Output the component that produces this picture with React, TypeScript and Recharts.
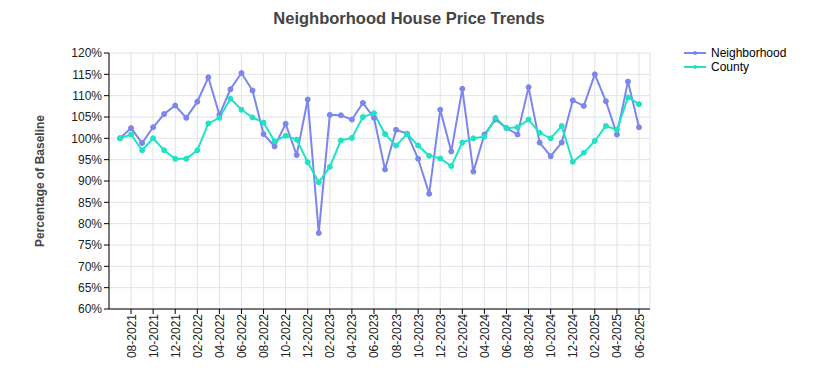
import { CartesianGrid, Line, LineChart, XAxis, YAxis } from "recharts";

const months = [
  "07-2021", "08-2021", "09-2021", "10-2021", "11-2021", "12-2021",
  "01-2022", "02-2022", "03-2022", "04-2022", "05-2022", "06-2022",
  "07-2022", "08-2022", "09-2022", "10-2022", "11-2022", "12-2022",
  "01-2023", "02-2023", "03-2023", "04-2023", "05-2023", "06-2023",
  "07-2023", "08-2023", "09-2023", "10-2023", "11-2023", "12-2023",
  "01-2024", "02-2024", "03-2024", "04-2024", "05-2024", "06-2024",
  "07-2024", "08-2024", "09-2024", "10-2024", "11-2024", "12-2024",
  "01-2025", "02-2025", "03-2025", "04-2025", "05-2025", "06-2025",
];

const neighborhood = [
  100.0, 102.4, 98.9, 102.6, 105.7, 107.7, 104.8, 108.6, 114.3, 105.5, 111.5, 115.3,
  111.2, 101.0, 98.1, 103.4, 96.1, 109.1, 77.8, 105.5, 105.4, 104.4, 108.3, 104.8,
  92.7, 102.0, 101.1, 95.2, 87.0, 106.7, 96.9, 111.6, 92.2, 100.9, 104.4, 102.4,
  100.9, 112.0, 99.0, 95.8, 99.0, 108.9, 107.6, 115.0, 108.7, 100.9, 113.3, 102.6,
];

const county = [
  100.0, 100.9, 97.2, 100.0, 97.2, 95.2, 95.2, 97.2, 103.5, 104.8, 109.3, 106.7,
  104.9, 103.7, 99.3, 100.6, 99.7, 94.4, 89.7, 93.3, 99.5, 100.1, 105.0, 105.9,
  101.0, 98.3, 101.0, 98.3, 95.9, 95.3, 93.5, 99.0, 100.0, 100.4, 104.8, 102.4,
  102.6, 104.4, 101.3, 100.0, 102.9, 94.5, 96.6, 99.4, 102.9, 102.0, 109.6, 108.0,
];

const yTicks = [60, 65, 70, 75, 80, 85, 90, 95, 100, 105, 110, 115, 120];
const xTicks = months.filter((_, i) => i % 2 === 1);

const data = months.map((month, i) => ({
  month,
  neighborhood: neighborhood[i],
  county: county[i],
}));

const NEIGHBORHOOD = "#7b86ee";
const COUNTY = "#1fe3c4";
const FONT = "Arial, 'Liberation Sans', sans-serif";

function LegendBox() {
  const items = [
    { label: "Neighborhood", color: NEIGHBORHOOD },
    { label: "County", color: COUNTY },
  ];
  return (
    <div style={{ position: "absolute", left: 683, top: 46, fontFamily: FONT, fontSize: 12, color: "#000" }}>
      {items.map((it) => (
        <div key={it.label} style={{ display: "flex", alignItems: "center", height: 14 }}>
          <svg width={24} height={10} style={{ marginRight: 4 }}>
            <line x1={1} y1={5} x2={23} y2={5} stroke={it.color} strokeWidth={2} />
            <circle cx={12} cy={5} r={2} fill={it.color} />
          </svg>
          {it.label}
        </div>
      ))}
    </div>
  );
}

export default function App() {
  return (
    <div style={{ position: "absolute", left: 0, top: 0, width: 820, height: 380, background: "#fff" }}>
      <div
        style={{
          position: "absolute",
          left: 0,
          top: 9,
          width: 818,
          textAlign: "center",
          fontFamily: FONT,
          fontWeight: "bold",
          fontSize: 16.5,
          color: "#444",
        }}
      >
        Neighborhood House Price Trends
      </div>
      <LineChart
        width={820}
        height={380}
        data={data}
        margin={{ top: 53, right: 170, left: 49, bottom: 6 }}
      >
        <CartesianGrid stroke="#e2e2ea" strokeWidth={1} />
        <XAxis
          dataKey="month"
          ticks={xTicks}
          interval={0}
          padding={{ left: 11, right: 11 }}
          height={65}
          angle={-90}
          textAnchor="end"
          dx={-4}
          dy={-2}
          tick={{ fontSize: 12, fill: "#222", fontFamily: FONT }}
          tickLine={{ stroke: "#000" }}
          axisLine={{ stroke: "#000" }}
          tickSize={5}
        />
        <YAxis
          domain={[60, 120]}
          ticks={yTicks}
          interval={0}
          width={60}
          tickFormatter={(v) => `${v}%`}
          tick={{ fontSize: 12, fill: "#222", fontFamily: FONT }}
          tickLine={{ stroke: "#000" }}
          axisLine={{ stroke: "#000" }}
          tickSize={5}
          label={{
            value: "Percentage of Baseline",
            angle: -90,
            position: "insideLeft",
            offset: -9,
            style: { textAnchor: "middle", fontSize: 12, fontWeight: "bold", fill: "#444", fontFamily: FONT },
          }}
        />
        <Line
          type="linear"
          dataKey="neighborhood"
          name="Neighborhood"
          stroke={NEIGHBORHOOD}
          strokeWidth={2}
          dot={{ r: 2.5, fill: NEIGHBORHOOD, stroke: NEIGHBORHOOD, strokeWidth: 1 }}
          isAnimationActive={false}
        />
        <Line
          type="linear"
          dataKey="county"
          name="County"
          stroke={COUNTY}
          strokeWidth={2}
          dot={{ r: 2.5, fill: COUNTY, stroke: COUNTY, strokeWidth: 1 }}
          isAnimationActive={false}
        />
      </LineChart>
      <LegendBox />
    </div>
  );
}
